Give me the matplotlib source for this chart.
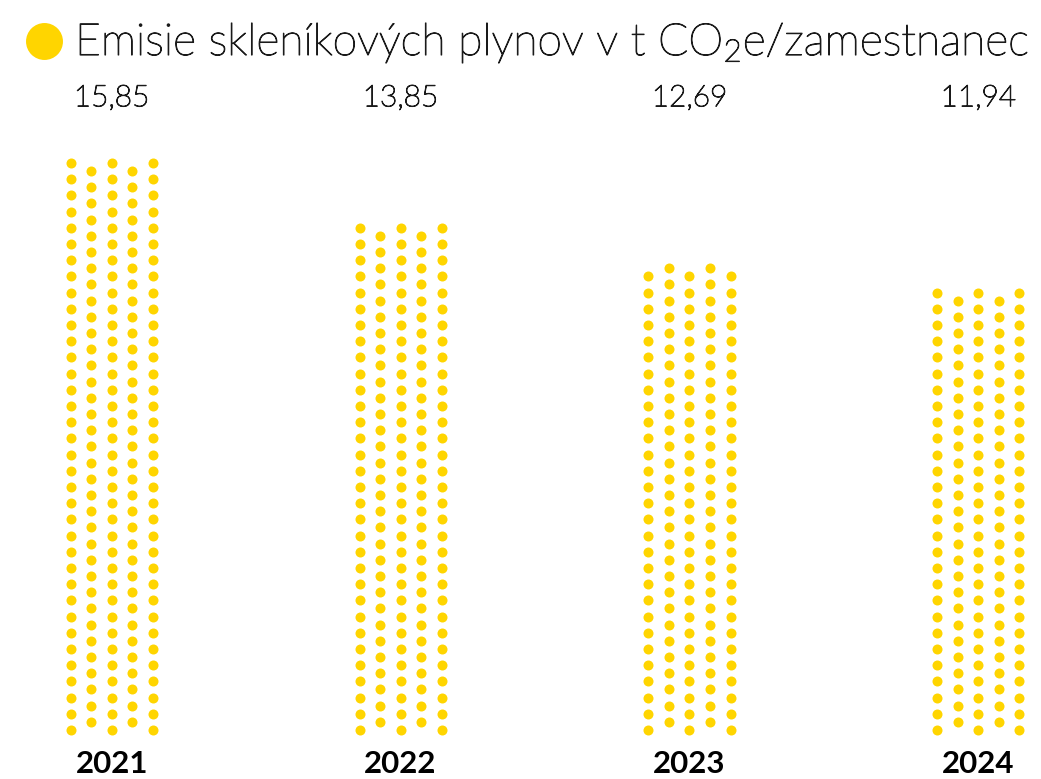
import matplotlib.pyplot as plt
import matplotlib.patheffects as pe
import numpy as np

years = ['2021', '2022', '2023', '2024']
values = [15.85, 13.85, 12.69, 11.94]
value_labels = ['15,85', '13,85', '12,69', '11,94']
# pocet bodiek v stlpci: vonkajsie stlpce (1,3,5) a posunute vnutorne (2,4)
dots_outer = [36, 32, 29, 28]
dots_inner = [35, 31, 29, 27]

yellow = '#FFD500'
text_color = '#1a1a1a'
plt.rcParams['font.family'] = ['Lato', 'DejaVu Sans']
plt.rcParams['mathtext.default'] = 'regular'

# tenke pismo trochu zhrubnut
thicker = [pe.withStroke(linewidth=0.8, foreground=text_color)]

fig = plt.figure(figsize=(10.41, 7.79), dpi=100)
ax = fig.add_axes([0, 0, 1, 1])
ax.set_xlim(-0.3866, 3.2167)
ax.set_ylim(-6.05, 90.12)
ax.axis('off')

# bodkove stlpce
col_step = 0.071
for i, year in enumerate(years):
    for k in range(5):
        x_col = i + (k - 2) * col_step
        if k % 2 == 0:
            levels = np.arange(dots_outer[i]) * 2
        else:
            levels = np.arange(dots_inner[i]) * 2 + 1
        ax.scatter(np.full(len(levels), x_col), levels, s=52, color=yellow, linewidths=0)
    ax.text(i, 77, value_labels[i], ha='center', va='baseline', fontsize=21.5,
            fontweight='light', color=text_color, path_effects=thicker)
    ax.text(i, -5.95, year, ha='center', va='bottom', fontsize=22.5,
            fontweight='bold', color='black')

# nadpis s kruzkom
fig.add_artist(plt.Line2D([43.5 / 1041], [1 - 40.7 / 779], marker='o', markersize=26.6,
                          color=yellow, markeredgewidth=0, transform=fig.transFigure))
fig.text(75 / 1041, 1 - 55 / 779, 'Emisie skleníkových plynov v t CO$_2$e/zamestnanec',
         fontsize=32, fontweight='light', va='baseline', color=text_color,
         path_effects=thicker)

plt.savefig('out.png', dpi=100)
